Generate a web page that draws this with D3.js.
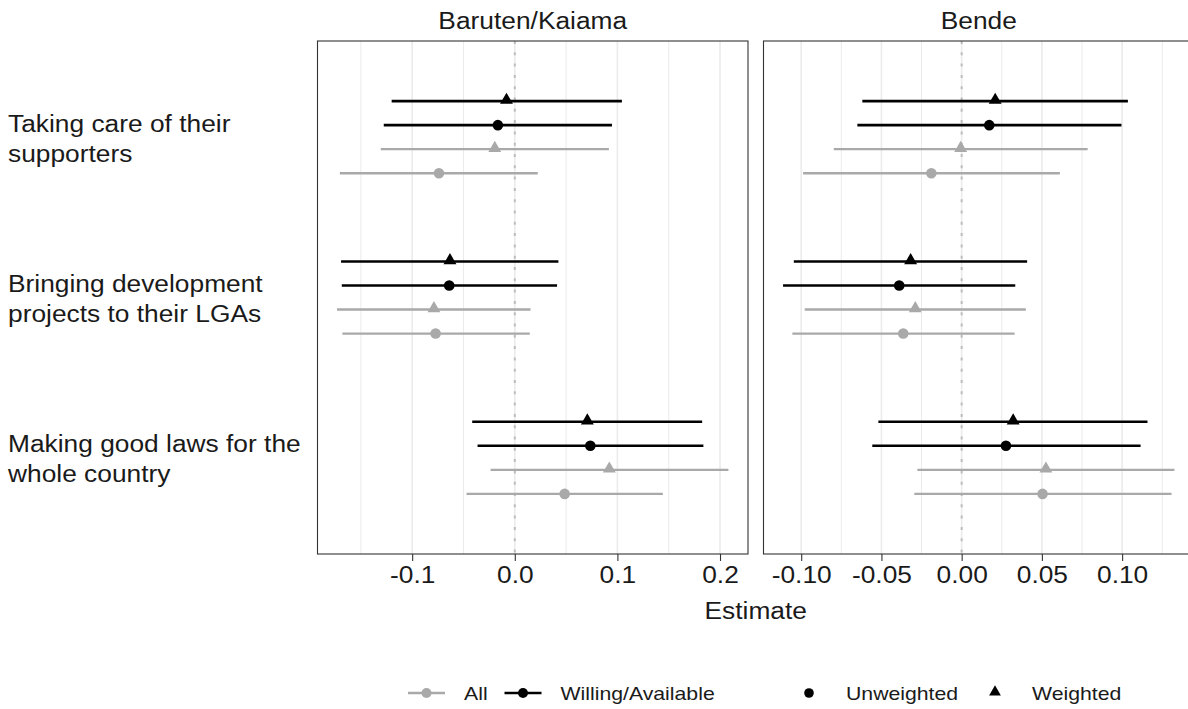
<!DOCTYPE html>
<html>
<head>
<meta charset="utf-8">
<script src="https://cdn.jsdelivr.net/npm/d3@7"></script>
<style>
  body { margin: 0; background: #fff; }
  text { font-family: "Liberation Sans", Arial, sans-serif; fill: #1a1a1a; }
</style>
</head>
<body>
<svg id="chart" width="1188" height="709"></svg>
<script>
"use strict";

//The three outcomes, top to bottom, and how they are broken on two lines
var categories = ["Taking care of their supporters",
                  "Bringing development projects to their LGAs",
                  "Making good laws for the whole country"];
var categoryLines = [["Taking care of their", "supporters"],
                     ["Bringing development", "projects to their LGAs"],
                     ["Making good laws for the", "whole country"]];
var facets = ["Baruten/Kaiama", "Bende"];

//The four estimates shown per outcome, top to bottom
var samples = ["Willing/Available", "Willing/Available", "All", "All"];
var weights = ["Weighted", "Unweighted", "Weighted", "Unweighted"];

//Baruten/Kaiama : one row per outcome, one value per estimate
var barutenEst = [[-0.0081, -0.0165, -0.0195, -0.0739],
                  [-0.0632, -0.0639, -0.0788, -0.0772],
                  [ 0.0707,  0.0736,  0.0921,  0.0486]];
var barutenLow = [[-0.1200, -0.1277, -0.1306, -0.1705],
                  [-0.1693, -0.1686, -0.1732, -0.1680],
                  [-0.0415, -0.0363, -0.0236, -0.0470]];
var barutenHigh = [[0.1044, 0.0947, 0.0917, 0.0224],
                   [0.0425, 0.0412, 0.0153, 0.0146],
                   [0.1826, 0.1838, 0.2082, 0.1443]];

//Bende
var bendeEst = [[ 0.0209,  0.0172, -0.0006, -0.0189],
                [-0.0318, -0.0389, -0.0289, -0.0364],
                [ 0.0321,  0.0276,  0.0525,  0.0504]];
var bendeLow = [[-0.0619, -0.0650, -0.0797, -0.0988],
                [-0.1046, -0.1113, -0.0978, -0.1055],
                [-0.0519, -0.0557, -0.0276, -0.0295]];
var bendeHigh = [[0.1036, 0.0996, 0.0785, 0.0612],
                 [0.0408, 0.0334, 0.0400, 0.0330],
                 [0.1158, 0.1115, 0.1326, 0.1308]];

//Tick values for each facet
var barutenTicks = [-0.1, 0.0, 0.1, 0.2];
var barutenMinor = [-0.15, -0.05, 0.05, 0.15];
var bendeTicks = [-0.10, -0.05, 0.00, 0.05, 0.10];
var bendeMinor = [-0.075, -0.025, 0.025, 0.075, 0.125];

//Legend entries
var sampleKeys = ["All", "Willing/Available"];
var weightKeys = ["Unweighted", "Weighted"];

//Layout
var panelLeft = 317.5, panelW = 430.5, panelGap = 15.5;
var panelTop = 41, panelBottom = 554;
var stretch = "scale(1.13,1)";   //text in the picture is a bit wider than tall
var fontBig = 23.3, fontLegend = 18.8;

var sampleColor = {"All": "#a9a9a9", "Willing/Available": "#000000"};
var sampleWidth = {"All": 2.3, "Willing/Available": 2.6};

var loc = d3.formatLocale({decimal: ".", thousands: ",", grouping: [3], currency: ["", ""], minus: "-"});

var panelsData = [
  {name: facets[0], est: barutenEst, low: barutenLow, high: barutenHigh,
   ticks: barutenTicks, minor: barutenMinor, fmt: loc.format(".1f")},
  {name: facets[1], est: bendeEst, low: bendeLow, high: bendeHigh,
   ticks: bendeTicks, minor: bendeMinor, fmt: loc.format(".2f")}
];

var svg = d3.select("#chart");

var y = d3.scalePoint()
    .domain(categories)
    .range([panelTop, panelBottom])
    .padding(0.6);
var dodge = d3.scalePoint()
    .domain(d3.range(samples.length))
    .range([-0.225, 0.225]);

var triangle = d3.symbol().type(d3.symbolTriangle).size(72);

panelsData.forEach(function(p, pi) {
  var x0 = panelLeft + pi * (panelW + panelGap);
  //ggplot style 5% expansion on the data range
  var lo = d3.min(p.low, function(r) { return d3.min(r); });
  var hi = d3.max(p.high, function(r) { return d3.max(r); });
  var pad = (hi - lo) * 0.05;
  var x = d3.scaleLinear().domain([lo - pad, hi + pad]).range([x0, x0 + panelW]);

  var g = svg.append("g");

  //minor and major vertical gridlines
  g.selectAll("line.minor").data(p.minor).enter().append("line")
      .attr("x1", x).attr("x2", x)
      .attr("y1", panelTop).attr("y2", panelBottom)
      .attr("stroke", "#ebebeb").attr("stroke-width", 1);
  g.selectAll("line.major").data(p.ticks).enter().append("line")
      .attr("x1", x).attr("x2", x)
      .attr("y1", panelTop).attr("y2", panelBottom)
      .attr("stroke", "#ebebeb").attr("stroke-width", 1.6);

  //dotted zero line
  g.append("line")
      .attr("x1", x(0)).attr("x2", x(0))
      .attr("y1", panelTop).attr("y2", panelBottom)
      .attr("stroke", "#bdbdbd").attr("stroke-width", 2)
      .attr("stroke-dasharray", "3,8.3");

  //error bars and points
  categories.forEach(function(c, ci) {
    samples.forEach(function(s, si) {
      var yy = y(c) + dodge(si) * y.step();
      var col = sampleColor[s];
      g.append("line")
          .attr("x1", x(p.low[ci][si])).attr("x2", x(p.high[ci][si]))
          .attr("y1", yy).attr("y2", yy)
          .attr("stroke", col).attr("stroke-width", sampleWidth[s]);
      if (weights[si] == "Weighted") {
        g.append("path")
            .attr("d", triangle)
            .attr("transform", "translate(" + x(p.est[ci][si]) + "," + (yy - 1) + ")")
            .attr("fill", col);
      } else {
        g.append("circle")
            .attr("cx", x(p.est[ci][si])).attr("cy", yy).attr("r", 5.3)
            .attr("fill", col);
      }
    });
  });

  //panel border
  g.append("rect")
      .attr("x", x0).attr("y", panelTop)
      .attr("width", panelW).attr("height", panelBottom - panelTop)
      .attr("fill", "none").attr("stroke", "#333333").attr("stroke-width", 1.1);

  //x axis
  var ax = g.append("g")
      .attr("transform", "translate(0," + panelBottom + ")")
      .call(d3.axisBottom(x).tickValues(p.ticks).tickFormat(p.fmt).tickSize(7).tickPadding(5));
  ax.select(".domain").remove();
  ax.selectAll(".tick line").attr("stroke", "#333333").attr("stroke-width", 1.1);
  ax.selectAll(".tick text")
      .attr("font-size", fontBig)
      .attr("fill", "#1a1a1a")
      .attr("font-family", "Liberation Sans, Arial, sans-serif")
      .attr("transform", stretch);

  //strip title
  svg.append("g")
      .attr("transform", "translate(" + (x0 + panelW / 2) + ",29)")
    .append("text")
      .attr("text-anchor", "middle")
      .attr("font-size", fontBig)
      .attr("transform", stretch)
      .text(p.name);
});

//category labels on the left
categoryLines.forEach(function(lines, ci) {
  lines.forEach(function(t, li) {
    svg.append("g")
        .attr("transform", "translate(8," + (y(categories[ci]) - 5.5 + li * 30) + ")")
      .append("text")
        .attr("font-size", fontBig)
        .attr("transform", stretch)
        .text(t);
  });
});

//x axis title, centred on both panels
svg.append("g")
    .attr("transform", "translate(" + (panelLeft + panelW + panelGap / 2) + ",619)")
  .append("text")
    .attr("text-anchor", "middle")
    .attr("font-size", fontBig)
    .attr("transform", stretch)
    .text("Estimate");

//legend
var legY = 693;
var keyCentres = [426.5, 523];
sampleKeys.forEach(function(k, i) {
  var cx = keyCentres[i];
  svg.append("line")
      .attr("x1", cx - 18.5).attr("x2", cx + 18.5)
      .attr("y1", legY).attr("y2", legY)
      .attr("stroke", sampleColor[k]).attr("stroke-width", sampleWidth[k]);
  svg.append("circle")
      .attr("cx", cx).attr("cy", legY).attr("r", 5)
      .attr("fill", sampleColor[k]);
  svg.append("g")
      .attr("transform", "translate(" + (cx + 37.5) + "," + (legY + 6.5) + ")")
    .append("text")
      .attr("font-size", fontLegend)
      .attr("transform", stretch)
      .text(k);
});

var shapeCentres = [809, 995];
weightKeys.forEach(function(k, i) {
  var cx = shapeCentres[i];
  if (k == "Weighted") {
    svg.append("path")
        .attr("d", d3.symbol().type(d3.symbolTriangle).size(60))
        .attr("transform", "translate(" + cx + "," + (legY - 1) + ")")
        .attr("fill", "#000");
  } else {
    svg.append("circle")
        .attr("cx", cx).attr("cy", legY).attr("r", 4.8)
        .attr("fill", "#000");
  }
  svg.append("g")
      .attr("transform", "translate(" + (cx + 37) + "," + (legY + 6.5) + ")")
    .append("text")
      .attr("font-size", fontLegend)
      .attr("transform", stretch)
      .text(k);
});
</script>
</body>
</html>
